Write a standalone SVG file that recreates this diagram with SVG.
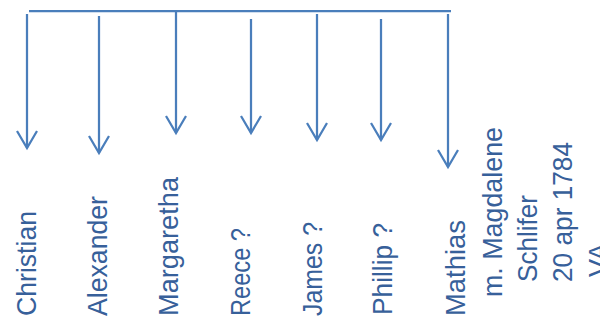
<svg xmlns="http://www.w3.org/2000/svg" width="600" height="322" viewBox="0 0 600 322">
  <style>
    .conn { stroke: #4A7EBB; stroke-width: 2.25; fill: none; }
    .arr { marker-end: url(#head); }
    .lbl { font-family: "Liberation Sans", Arial, sans-serif; font-size: 28px; fill: #37609A; }
  </style>
  <defs>
    <marker id="head" markerUnits="userSpaceOnUse" markerWidth="40" markerHeight="40" viewBox="-20 -20 40 40" refX="0" refY="0" orient="auto" overflow="visible">
      <path d="M-17,-10 L0,0 L-17,10" fill="none" stroke="#4A7EBB" stroke-width="2.25" stroke-linejoin="miter"/>
    </marker>
  </defs>
  <rect width="600" height="322" fill="#FFFFFF"/>
  <g id="connectors">
    <line class="conn" x1="29" y1="11" x2="451" y2="11"/>
    <line class="conn arr" x1="27" y1="14" x2="27" y2="148"/>
    <line class="conn arr" x1="99" y1="16" x2="99" y2="153"/>
    <line class="conn arr" x1="176" y1="11" x2="176" y2="133"/>
    <line class="conn arr" x1="251" y1="19" x2="251" y2="133"/>
    <line class="conn arr" x1="317" y1="14" x2="317" y2="140"/>
    <line class="conn arr" x1="381" y1="19" x2="381" y2="140"/>
    <line class="conn arr" x1="448" y1="14" x2="448" y2="167"/>
  </g>
  <g id="christian"><text class="lbl" transform="translate(36,316) rotate(-90)" textLength="105" lengthAdjust="spacingAndGlyphs">Christian</text></g>
  <g id="alexander"><text class="lbl" transform="translate(107,316) rotate(-90)" textLength="120" lengthAdjust="spacingAndGlyphs">Alexander</text></g>
  <g id="margaretha"><text class="lbl" transform="translate(178,316) rotate(-90)" textLength="139" lengthAdjust="spacingAndGlyphs">Margaretha</text></g>
  <g id="reece"><text class="lbl" transform="translate(250,316) rotate(-90)" textLength="88" lengthAdjust="spacingAndGlyphs">Reece ?</text></g>
  <g id="james"><text class="lbl" transform="translate(322,316) rotate(-90)" textLength="94" lengthAdjust="spacingAndGlyphs">James ?</text></g>
  <g id="phillip"><text class="lbl" transform="translate(392,315) rotate(-90)" textLength="92" lengthAdjust="spacingAndGlyphs">Phillip ?</text></g>
  <g id="mathias">
    <text class="lbl" transform="translate(465,316) rotate(-90)" textLength="96" lengthAdjust="spacingAndGlyphs">Mathias</text>
    <text class="lbl" transform="translate(502,297) rotate(-90)" textLength="170" lengthAdjust="spacingAndGlyphs">m. Magdalene</text>
    <text class="lbl" transform="translate(537,282) rotate(-90)" textLength="87" lengthAdjust="spacingAndGlyphs">Schlifer</text>
    <text class="lbl" transform="translate(572,282) rotate(-90)" textLength="140" lengthAdjust="spacingAndGlyphs">20 apr 1784</text>
    <text class="lbl" transform="translate(608,277) rotate(-90)" textLength="34" lengthAdjust="spacingAndGlyphs">VA</text>
  </g>
</svg>
